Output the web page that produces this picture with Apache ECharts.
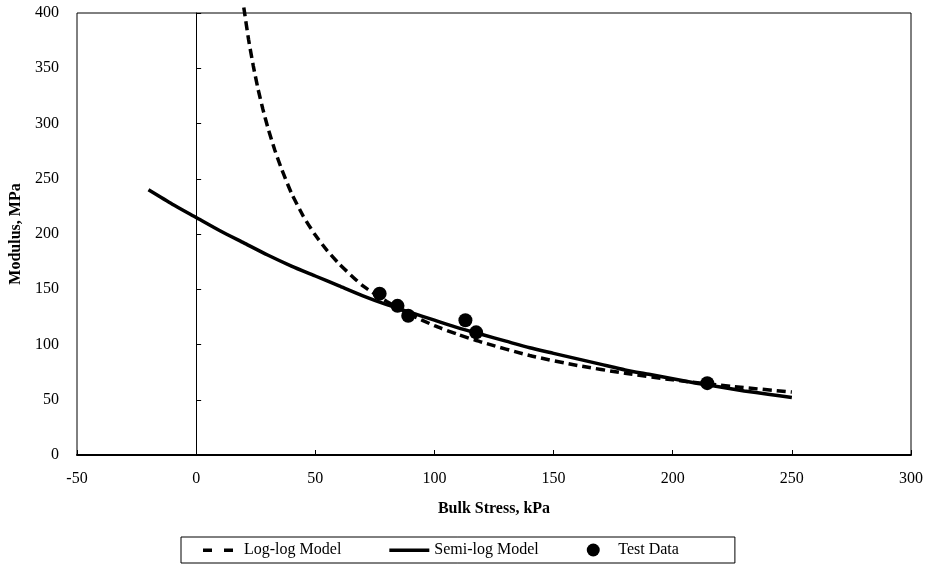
<!DOCTYPE html>
<html>
<head>
<meta charset="utf-8">
<script src="https://cdn.jsdelivr.net/npm/echarts@6/dist/echarts.min.js"></script>
<style>
html, body { margin: 0; padding: 0; background: #fff; }
#chart { width: 926px; height: 564px; }
</style>
</head>
<body>
<div id="chart"></div>
<script>
// values
var logLogX = [20, 22, 24, 26, 28, 30, 33, 36, 40, 45, 50, 55, 60, 70, 80, 90, 100, 110, 120, 140, 160, 180, 200, 225, 250];
var logLogY = [405, 376, 352, 331, 313, 297, 276, 258, 237, 216, 199, 185, 173, 153, 139, 127, 117, 109, 102, 90, 81, 74, 68, 62, 57];

var semiLogX = [-20, -10, 0, 10, 20, 30, 40, 50, 60, 70, 80, 90, 100, 110, 120, 130, 140, 150, 160, 170, 180, 190, 200, 210, 220, 230, 240, 250];
var semiLogY = [240, 227, 215, 203, 192, 181, 171, 162, 153, 144, 136, 129, 122, 115, 109, 103, 97, 92, 87, 82, 77, 73, 69, 65, 61.5, 58, 55, 52];

var testX = [77, 84.5, 89, 113, 117.5, 214.5];
var testY = [146, 135, 126, 122, 111, 65];

function pairs(xs, ys) {
    var out = [];
    for (var i = 0; i < xs.length; i++) out.push([xs[i], ys[i]]);
    return out;
}

var font = '"Liberation Serif", "DejaVu Serif", serif';

// legend icons: 40x13 box kept by the zero-length corner segments
var dashIcon = 'path://M0,0L0,0 M40,13L40,13 M4,5h9v3.5h-9z M25,5h9v3.5h-9z';
var solidIcon = 'path://M0,0L0,0 M40,13L40,13 M0,5h40v3.5h-40z';

var chart = echarts.init(document.getElementById('chart'));

var option = {
    backgroundColor: '#ffffff',
    animation: false,
    textStyle: { fontFamily: font, color: '#000' },
    grid: {
        left: 77, right: 14, top: 13, bottom: 109,
        show: true, borderColor: '#000', borderWidth: 1
    },
    xAxis: {
        type: 'value', min: -50, max: 300, interval: 50,
        name: 'Bulk Stress, kPa', nameLocation: 'middle', nameGap: 46,
        nameTextStyle: { fontFamily: font, fontWeight: 'bold', fontSize: 16, color: '#000' },
        axisLine: { show: true, lineStyle: { color: '#000', width: 2 } },
        axisTick: { show: true, inside: true, length: 5, lineStyle: { color: '#000' } },
        axisLabel: { fontFamily: font, fontSize: 16, color: '#000', margin: 16 },
        splitLine: { show: false }
    },
    yAxis: [{
        type: 'value', min: 0, max: 400, interval: 50,
        name: 'Modulus, MPa', nameLocation: 'middle', nameGap: 49,
        nameTextStyle: { fontFamily: font, fontWeight: 'bold', fontSize: 16, color: '#000' },
        axisLine: { show: false, onZero: false },
        axisTick: { show: false },
        axisLabel: { fontFamily: font, fontSize: 16, color: '#000', margin: 18 },
        splitLine: { show: false }
    }, {
        type: 'value', min: 0, max: 400, interval: 50,
        position: 'left',
        axisLine: { show: true, onZero: true, lineStyle: { color: '#000', width: 1 } },
        axisTick: { show: true, inside: true, length: 5, lineStyle: { color: '#000' } },
        axisLabel: { show: false },
        splitLine: { show: false }
    }],
    legend: {
        left: 181, top: 537,
        data: [
            { name: 'Log-log Model', icon: dashIcon },
            { name: 'Semi-log Model', icon: solidIcon },
            { name: 'Test Data', icon: 'circle' }
        ],
        borderColor: '#000', borderWidth: 1, borderRadius: 0,
        padding: [5, 56, 5, 18],
        itemGap: 48, itemWidth: 40, itemHeight: 13,
        itemStyle: { color: '#000', borderWidth: 0 },
        textStyle: { fontFamily: font, fontSize: 16, color: '#000' }
    },
    series: [{
        name: 'Log-log Model', type: 'line',
        data: pairs(logLogX, logLogY),
        smooth: 0.2, symbol: 'none', clip: false,
        lineStyle: { color: '#000', width: 3.5, type: [9, 5] },
        itemStyle: { color: '#000' }
    }, {
        name: 'Semi-log Model', type: 'line',
        data: pairs(semiLogX, semiLogY),
        smooth: 0.2, symbol: 'none',
        lineStyle: { color: '#000', width: 3.5 },
        itemStyle: { color: '#000' }
    }, {
        name: 'Test Data', type: 'scatter',
        data: pairs(testX, testY),
        symbol: 'circle', symbolSize: 14,
        itemStyle: { color: '#000', opacity: 1 }
    }]
};

chart.setOption(option);
</script>
</body>
</html>
